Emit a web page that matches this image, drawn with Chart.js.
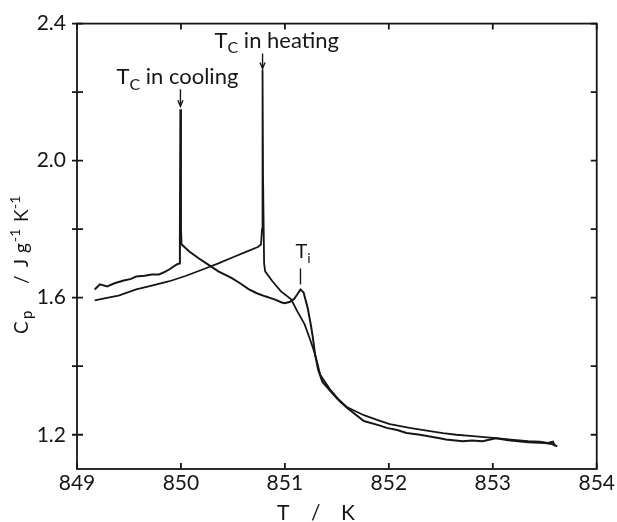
<!DOCTYPE html>
<html><head><meta charset="utf-8">
<script src="https://cdn.jsdelivr.net/npm/chart.js@4"></script>
<style>html,body{margin:0;padding:0;background:#fff}#wrap{width:617px;height:522px}</style>
</head><body><div id="wrap"><canvas id="c" width="617" height="522"></canvas></div>
<script>
// ---- data ----
const coolingT = [849.17,849.22,849.29,849.36,849.45,849.52,849.57,849.65,849.72,849.79,849.85,849.89,849.96,849.985,849.99,849.995,850.0,850.005,850.08,850.17,850.27,850.36,850.49,850.58,850.65,850.73,850.81,850.9,850.97,851.0,851.05,851.09,851.12,851.15,851.18,851.22,851.25,851.27,851.29,851.32,851.36,851.44,851.52,851.6,851.76,851.9,851.98,852.08,852.17,852.3,852.49,852.55,852.71,852.8,852.9,853.03,853.15,853.34,853.5,853.57,853.62];
const coolingCp = [1.624,1.639,1.633,1.642,1.650,1.655,1.662,1.664,1.668,1.668,1.676,1.683,1.697,1.700,1.78,2.15,1.80,1.756,1.735,1.715,1.695,1.677,1.657,1.640,1.625,1.613,1.604,1.595,1.586,1.584,1.588,1.597,1.610,1.624,1.615,1.569,1.52,1.482,1.435,1.39,1.355,1.327,1.300,1.278,1.240,1.228,1.220,1.214,1.205,1.200,1.190,1.186,1.181,1.183,1.181,1.190,1.184,1.178,1.176,1.173,1.166];
const heatingT = [849.17,849.3,849.4,849.57,849.7,849.89,850.05,850.24,850.36,850.5,850.62,850.74,850.77,850.78,850.785,850.79,850.80,850.81,850.88,850.96,851.06,851.12,851.19,851.24,851.29,851.34,851.44,851.52,851.6,851.76,851.9,852.01,852.2,852.35,852.52,852.65,852.81,853.03,853.2,853.34,853.45,853.53,853.58,853.6];
const heatingCp = [1.592,1.600,1.606,1.624,1.634,1.648,1.664,1.686,1.700,1.718,1.733,1.748,1.755,1.80,2.266,1.95,1.70,1.677,1.648,1.619,1.595,1.56,1.522,1.48,1.435,1.375,1.330,1.302,1.280,1.257,1.242,1.231,1.220,1.213,1.205,1.200,1.196,1.190,1.185,1.181,1.180,1.176,1.180,1.167];
const xTicks = [849,850,851,852,853,854];
const yTicks = [1.2,1.4,1.6,1.8,2.0,2.2,2.4];
const yTickLabels = ['1.2','','1.6','','2.0','','2.4'];
const tiT = 851.15, tiCp = 1.624;

const INK = '#161616';
const FONT = 'Lato, "Open Sans", sans-serif';

function drawTsub(ctx, x, y, main, sub, rest, size){
  ctx.font = size + 'px ' + FONT;
  ctx.fillText(main, x, y);
  let w = ctx.measureText(main).width;
  ctx.font = Math.round(size*0.72) + 'px ' + FONT;
  ctx.fillText(sub, x + w, y + size*0.25);
  w += ctx.measureText(sub).width;
  if (rest){
    ctx.font = size + 'px ' + FONT;
    ctx.fillText(rest, x + w, y);
  }
}
function arrow(ctx, x, y0, y1){
  ctx.beginPath(); ctx.moveTo(x, y0); ctx.lineTo(x, y1); ctx.stroke();
  ctx.beginPath(); ctx.moveTo(x-2.5, y1-6); ctx.lineTo(x, y1); ctx.lineTo(x+2.5, y1-6); ctx.stroke();
}

const framePlugin = {
  id: 'frame',
  afterDraw(chart){
    const {ctx, chartArea: a, scales: {x, y}} = chart;
    ctx.save();
    ctx.strokeStyle = INK; ctx.fillStyle = INK; ctx.lineWidth = 1.8;
    ctx.strokeRect(a.left, a.top, a.right - a.left, a.bottom - a.top);
    ctx.beginPath();
    yTicks.forEach(v => { const p = y.getPixelForValue(v);
      ctx.moveTo(a.left - 5, p); ctx.lineTo(a.left + 6, p);
      ctx.moveTo(a.right - 6, p); ctx.lineTo(a.right, p); });
    xTicks.forEach(v => { const p = x.getPixelForValue(v);
      ctx.moveTo(p, a.bottom); ctx.lineTo(p, a.bottom - 6);
      ctx.moveTo(p, a.top); ctx.lineTo(p, a.top + 6); });
    ctx.stroke();

    // annotations
    ctx.textBaseline = 'alphabetic'; ctx.textAlign = 'left';
    const ci = coolingCp.indexOf(Math.max(...coolingCp));
    const hi = heatingCp.indexOf(Math.max(...heatingCp));
    const cx = x.getPixelForValue(coolingT[ci]), cy = y.getPixelForValue(coolingCp[ci]);
    const hx = x.getPixelForValue(heatingT[hi]), hy = y.getPixelForValue(heatingCp[hi]);
    ctx.lineWidth = 1.4;
    drawTsub(ctx, cx - 64, cy - 25, 'T', 'C', ' in cooling', 22);
    arrow(ctx, cx, cy - 20, cy - 3);
    drawTsub(ctx, hx - 48, hy - 22, 'T', 'C', ' in heating', 22);
    arrow(ctx, hx, hy - 16, hy - 1);
    const tx = x.getPixelForValue(tiT), ty = y.getPixelForValue(tiCp);
    drawTsub(ctx, tx - 5, ty - 31, 'T', 'i', '', 20);
    ctx.beginPath(); ctx.moveTo(tx, ty - 21); ctx.lineTo(tx, ty - 5); ctx.stroke();

    // x title
    ctx.font = '21px ' + FONT;
    ctx.fillText('T', 277, 520);
    ctx.fillText('/', 311, 520);
    ctx.fillText('K', 341, 520);

    // y title (rotated)
    ctx.translate(28, 334);
    ctx.rotate(-Math.PI/2);
    ctx.font = '19px ' + FONT;
    ctx.fillText('C', 0, 0);
    ctx.font = '15px ' + FONT;
    ctx.fillText('p', 15, 4);
    ctx.font = '19px ' + FONT;
    ctx.fillText('/', 50, 0);
    ctx.fillText('J', 67, 0);
    ctx.fillText('g', 81, 0);
    ctx.font = '14px ' + FONT;
    ctx.fillText('-1', 92, -8);
    ctx.font = '19px ' + FONT;
    ctx.fillText('K', 112, 0);
    ctx.font = '14px ' + FONT;
    ctx.fillText('-1', 125, -8);
    ctx.restore();
  }
};

const toPts = (xs, ys) => xs.map((t, i) => ({x: t, y: ys[i]}));

new Chart(document.getElementById('c'), {
  type: 'line',
  data: {
    datasets: [
      {label: 'cooling', data: toPts(coolingT, coolingCp), borderColor: INK, borderWidth: 2, pointRadius: 0, tension: 0, fill: false},
      {label: 'heating', data: toPts(heatingT, heatingCp), borderColor: INK, borderWidth: 1.8, pointRadius: 0, tension: 0, fill: false}
    ]
  },
  options: {
    responsive: false, animation: false, devicePixelRatio: 1,
    layout: {padding: {top: 22, right: 15, left: 0, bottom: 0}},
    plugins: {legend: {display: false}, tooltip: {enabled: false}},
    scales: {
      x: {
        type: 'linear', min: 849, max: 854,
        afterBuildTicks: s => { s.ticks = xTicks.map(v => ({value: v})); },
        afterFit: s => { s.height = 53; },
        grid: {display: false, drawTicks: false}, border: {display: false},
        ticks: {color: INK, font: {family: FONT, size: 21}, padding: 2, maxRotation: 0, autoSkip: false,
                callback: (v, i) => String(xTicks[i])}
      },
      y: {
        type: 'linear', min: 1.1, max: 2.4,
        afterBuildTicks: s => { s.ticks = yTicks.map(v => ({value: v})); },
        afterFit: s => { s.width = 77; },
        grid: {display: false, drawTicks: false}, border: {display: false},
        ticks: {color: INK, font: {family: FONT, size: 21}, padding: 11, autoSkip: false,
                callback: (v, i) => yTickLabels[i]}
      }
    }
  },
  plugins: [framePlugin]
});
</script>
</body></html>
